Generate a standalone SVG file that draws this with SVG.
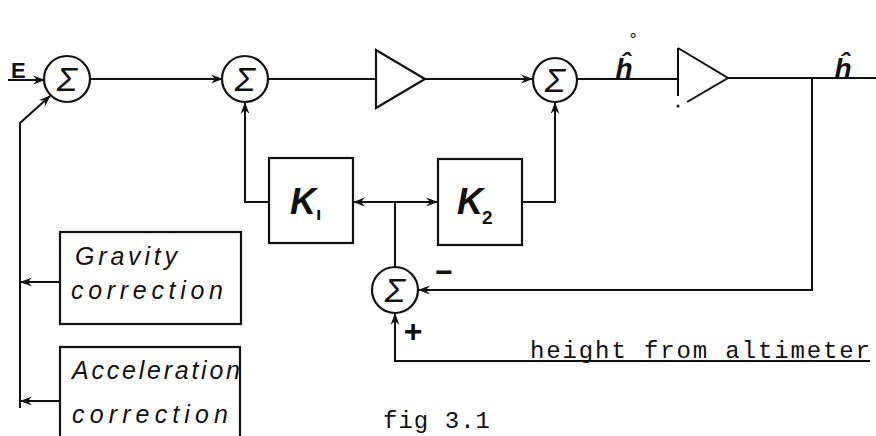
<svg xmlns="http://www.w3.org/2000/svg" width="876" height="436" viewBox="0 0 876 436">
<defs>
<style>
.ln{fill:none;stroke:#111;stroke-width:2}
.bx{fill:#fff;stroke:#111;stroke-width:2.2}
.sg{font-family:"Liberation Sans",sans-serif;font-style:italic;font-size:34px;fill:#111;text-anchor:middle}
.hw{font-family:"Liberation Sans",sans-serif;font-style:italic;font-size:25px;fill:#111}
.kk{font-family:"Liberation Sans",sans-serif;font-style:italic;font-weight:bold;font-size:36px;fill:#111}
.ks{font-family:"Liberation Sans",sans-serif;font-weight:bold;font-size:19px;fill:#111}
.tw{font-family:"Liberation Mono",monospace;font-size:24px;fill:#111}
.hh{font-family:"Liberation Sans",sans-serif;font-style:italic;font-weight:bold;font-size:28px;fill:#111;text-anchor:middle}
</style>
<marker id="ar" viewBox="0 0 12 10" refX="11" refY="5" markerWidth="13" markerHeight="10" markerUnits="userSpaceOnUse" orient="auto">
<path d="M0,0.5 L12,5 L0,9.5 L4,5 Z" fill="#111"/>
</marker>
</defs>
<g id="connectors">
<path class="ln" d="M8,80 L44,80" marker-end="url(#ar)"/>
<path class="ln" d="M90,79 L222,79" marker-end="url(#ar)"/>
<path class="ln" d="M268,79 L376,79"/>
<path class="ln" d="M425,79 L532,79" marker-end="url(#ar)"/>
<path class="ln" d="M577,79 L678,79"/>
<path class="ln" d="M728,78 L876,78"/>
<path class="ln" d="M812,78 L812,290 L419,290" marker-end="url(#ar)"/>
<path class="ln" d="M870,361 L395,361 L395,314" marker-end="url(#ar)"/>
<path class="ln" d="M395,267 L395,202"/>
<path class="ln" d="M395,202 L354,202" marker-end="url(#ar)"/>
<path class="ln" d="M395,202 L437,202" marker-end="url(#ar)"/>
<path class="ln" d="M269,202 L245,202 L245,103" marker-end="url(#ar)"/>
<path class="ln" d="M522,202 L555,202 L555,103" marker-end="url(#ar)"/>
<path class="ln" d="M20,408 L20,123 L50,96" marker-end="url(#ar)"/>
<path class="ln" d="M60,282 L21,282" marker-end="url(#ar)"/>
<path class="ln" d="M60,401 L21,401" marker-end="url(#ar)"/>
</g>
<g id="sum1"><circle class="bx" cx="67" cy="79" r="23"/><text class="sg" x="67" y="91">Σ</text></g>
<g id="sum2"><circle class="bx" cx="245" cy="79" r="23"/><text class="sg" x="245" y="91">Σ</text></g>
<g id="sum3"><circle class="bx" cx="555" cy="80" r="22"/><text class="sg" x="555" y="92">Σ</text></g>
<g id="sum4"><circle class="bx" cx="395" cy="290" r="23"/><text class="sg" x="395" y="302">Σ</text></g>
<g id="amp1"><path class="bx" d="M376,50 L425,79 L376,108 Z"/></g>
<g id="amp2"><path class="ln" d="M678,48 L678,96 M678,48 L728,78 L687,102"/><circle cx="678" cy="106" r="1.5" fill="#111"/></g>
<g id="k1"><rect class="bx" x="269" y="158" width="84" height="85"/><text class="kk" x="290" y="214">K</text><text class="ks" x="316" y="220">ı</text></g>
<g id="k2"><rect class="bx" x="438" y="159" width="84" height="86"/><text class="kk" x="457" y="214">K</text><text class="ks" x="482" y="224">2</text></g>
<g id="gravity"><rect class="bx" x="60" y="232" width="181" height="92"/><text class="hw" x="75" y="265" textLength="102" lengthAdjust="spacing">Gravity</text><text class="hw" x="71" y="299" textLength="152" lengthAdjust="spacing">correction</text></g>
<g id="accel"><rect class="bx" x="60" y="347" width="180" height="100"/><text class="hw" x="72" y="379" textLength="168" lengthAdjust="spacing">Acceleration</text><text class="hw" x="72" y="423" textLength="156" lengthAdjust="spacing">correction</text></g>
<g id="labels">
<text x="11" y="78" font-family="Liberation Sans,sans-serif" font-weight="bold" font-size="22" fill="#111">E</text>
<text class="hh" x="624" y="78">ĥ</text>
<text x="633" y="46" font-family="Liberation Sans,sans-serif" font-size="18" fill="#111" text-anchor="middle">°</text>
<text class="hh" x="843" y="78">ĥ</text>
<text x="444" y="282" font-family="Liberation Sans,sans-serif" font-weight="bold" font-size="30" fill="#111" text-anchor="middle">−</text>
<text x="413" y="342" font-family="Liberation Sans,sans-serif" font-weight="bold" font-size="32" fill="#111" text-anchor="middle">+</text>
<text class="tw" x="530" y="358" textLength="340" lengthAdjust="spacing">height from altimeter</text>
<text class="tw" x="383" y="428" font-size="16" textLength="107" lengthAdjust="spacing">fig 3.1</text>
</g>
</svg>
